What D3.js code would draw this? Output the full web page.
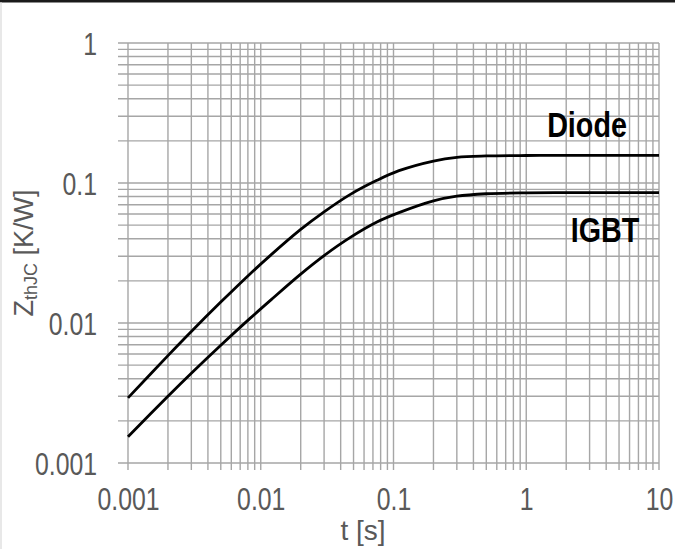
<!DOCTYPE html>
<html><head><meta charset="utf-8">
<script src="https://cdn.jsdelivr.net/npm/d3@7"></script>
<style>
html,body{margin:0;padding:0;background:#fff;}
svg{display:block;}
</style></head>
<body>
<svg id="c" width="675" height="549"></svg>
<script>
// ---- data ----
const tValues     = [0.001, 0.002, 0.003, 0.005, 0.0083, 0.012, 0.02, 0.03, 0.047, 0.075, 0.11, 0.2, 0.3, 0.5, 1, 2, 5, 10];
const diodeValues = [0.00292, 0.00585, 0.0087, 0.0141, 0.0224, 0.0308, 0.0466, 0.0622, 0.0826, 0.1045, 0.1225, 0.1435, 0.1525, 0.156, 0.1572, 0.1573, 0.1573, 0.1573];
const igbtValues  = [0.00154, 0.0030, 0.00438, 0.00694, 0.01079, 0.0147, 0.02235, 0.0303, 0.0407, 0.0526, 0.0614, 0.0745, 0.0805, 0.0838, 0.0851, 0.0853, 0.0853, 0.0853];
const xTickValues = [0.001, 0.01, 0.1, 1, 10];
const xTickLabels = ["0.001", "0.01", "0.1", "1", "10"];
const yTickValues = [0.001, 0.01, 0.1, 1];
const yTickLabels = ["0.001", "0.01", "0.1", "1"];
const seriesNames = ["Diode", "IGBT"];

const svg = d3.select("#c");
const L = 128, R = 659, T = 43, B = 463;
const x = d3.scaleLog().domain([0.001, 10]).range([L, R]);
const y = d3.scaleLog().domain([0.001, 1]).range([B, T]);
const font = "'Liberation Sans','Arial',sans-serif";
const NARROW = "scale(0.8,1)";

// frame
svg.append("rect").attr("x",0).attr("y",0).attr("width",675).attr("height",2.5).attr("fill","#1a1a1a");
svg.append("line").attr("x1",1).attr("x2",1).attr("y1",2).attr("y2",549).attr("stroke","#d9d9d9").attr("stroke-width",1.2);

// grid values (major + minor)
function gridVals(lo, hi){
  const out=[];
  for(let e=Math.round(Math.log10(lo)); e<Math.round(Math.log10(hi)); e++){
    for(let m=1;m<10;m++) out.push(m*Math.pow(10,e));
  }
  out.push(hi);
  return out;
}
const gx = gridVals(0.001,10), gy = gridVals(0.001,1);
const grid = svg.append("g").attr("stroke","#a6a6a6").attr("stroke-width",1.4);
grid.selectAll("line.v").data(gx).join("line").attr("class","v")
  .attr("x1",d=>x(d)).attr("x2",d=>x(d)).attr("y1",T).attr("y2",B+7);
grid.selectAll("line.h").data(gy).join("line").attr("class","h")
  .attr("y1",d=>y(d)).attr("y2",d=>y(d)).attr("x1",L-10).attr("x2",R);

// axes labels
const xAxis = d3.axisBottom(x).tickValues(xTickValues).tickFormat((d,i)=>xTickLabels[i]).tickSize(0).tickPadding(0);
const gxA = svg.append("g").attr("transform",`translate(0,${B})`).call(xAxis);
gxA.select(".domain").remove();
gxA.selectAll("text").attr("dy",null).attr("x",0).attr("y",47.5).attr("transform",NARROW)
  .attr("font-family",font).attr("font-size",31).attr("fill","#595959");

const yAxis = d3.axisLeft(y).tickValues(yTickValues).tickFormat((d,i)=>yTickLabels[i]).tickSize(0).tickPadding(0);
const gyA = svg.append("g").attr("transform",`translate(97,0)`).call(yAxis);
gyA.select(".domain").remove();
gyA.selectAll("text").attr("x",0).attr("dy","0.36em").attr("text-anchor","end").attr("transform",NARROW)
  .attr("font-family",font).attr("font-size",31).attr("fill","#595959");

// axis titles
svg.append("text").attr("x",363).attr("y",540).attr("text-anchor","middle")
  .attr("font-family",font).attr("font-size",28).attr("fill","#595959").text("t [s]");
const yt = svg.append("text").attr("transform","translate(33,253) rotate(-90)").attr("text-anchor","middle")
  .attr("font-family",font).attr("font-size",27).attr("fill","#595959");
yt.append("tspan").text("Z");
yt.append("tspan").attr("font-size",18).attr("dy",4).text("thJC");
yt.append("tspan").attr("dy",-4).text(" [K/W]");

// curves
const line = d3.line().x(d=>x(d[0])).y(d=>y(d[1])).curve(d3.curveCatmullRom.alpha(0.5));
[diodeValues, igbtValues].forEach(vals=>{
  svg.append("path").datum(tValues.map((t,i)=>[t,vals[i]]))
    .attr("d",line).attr("fill","none").attr("stroke","#000").attr("stroke-width",2.8);
});

// series labels
svg.append("g").attr("transform","translate(587,137)").append("text").attr("transform","scale(0.82,1)")
  .attr("text-anchor","middle").attr("font-family",font).attr("font-weight","bold")
  .attr("font-size",35).attr("fill","#000").text(seriesNames[0]);
svg.append("g").attr("transform","translate(605,242)").append("text").attr("transform","scale(0.82,1)")
  .attr("text-anchor","middle").attr("font-family",font).attr("font-weight","bold")
  .attr("font-size",35).attr("fill","#000").text(seriesNames[1]);
</script>
</body></html>
